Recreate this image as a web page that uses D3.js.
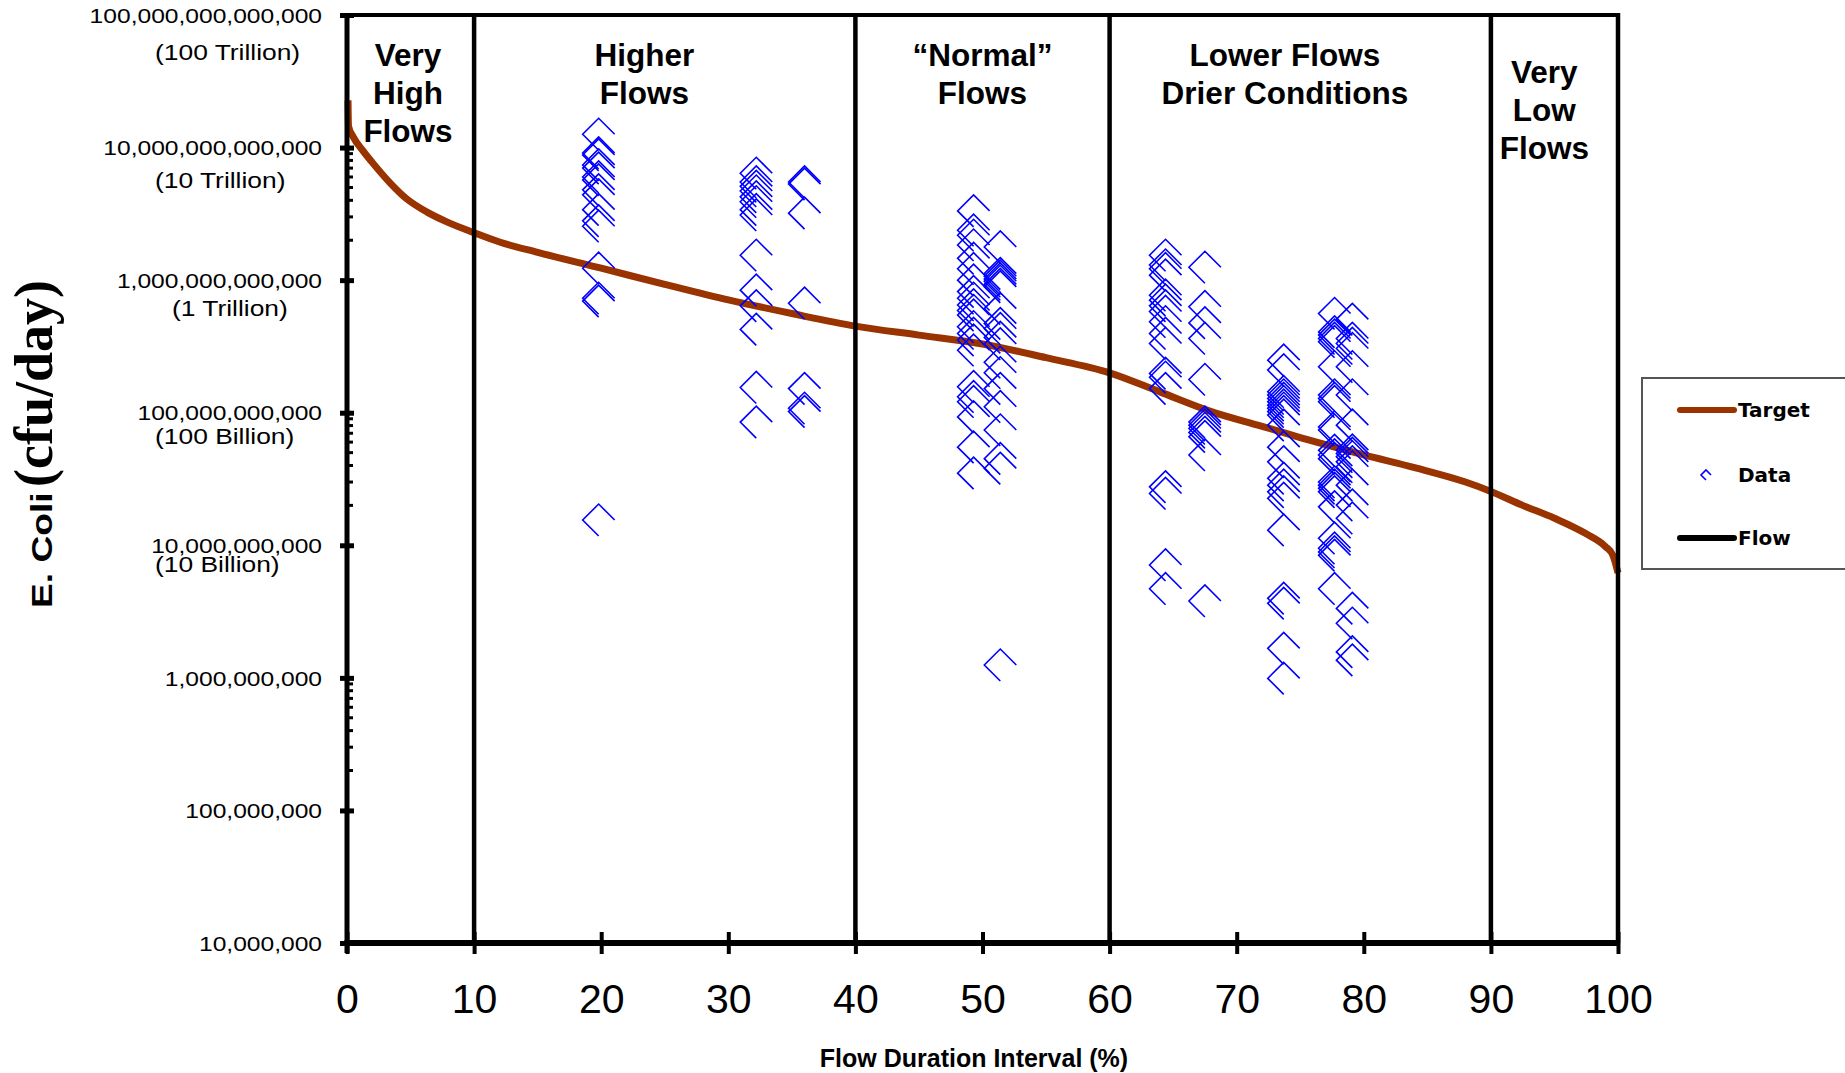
<!DOCTYPE html>
<html>
<head>
<meta charset="utf-8">
<script src="https://cdn.jsdelivr.net/npm/d3@7"></script>
<style>
  body { margin: 0; background: #fff; }
  svg { display: block; }
</style>
</head>
<body>
<svg id="chart" width="1845" height="1073"></svg>
<script>
// ---------------- DATA ----------------
const yTickValues = [1e7, 1e8, 1e9, 1e10, 1e11, 1e12, 1e13, 1e14];
const yNoteValues = [1e14, 1e13, 1e12, 1e11, 1e10];
const yNoteLabels = ["(100 Trillion)", "(10 Trillion)", "(1 Trillion)", "(100 Billion)", "(10 Billion)"];
const minorDecades = [1e8, 1e10, 1e12];
const minorMultipliers = [2, 3, 4, 5, 6, 7, 8, 9];
const xTickValues = [0, 10, 20, 30, 40, 50, 60, 70, 80, 90, 100];
const flowBreaks = [10, 40, 60, 90, 100];
const regionLabels = [
  ["Very", "High", "Flows"],
  ["Higher", "Flows"],
  ["\u201CNormal\u201D", "Flows"],
  ["Lower Flows", "Drier Conditions"],
  ["Very", "Low", "Flows"]
];
const xTitle = "Flow Duration Interval (%)";
const yTitleA = "E. Coli";
const yTitleB = "(cfu/day)";
const legendLabels = ["Target", "Data", "Flow"];

// Target load duration curve
const targetPct  = [0.08, 0.12, 0.5, 1.2, 2.0, 3.4, 4.7, 6.3, 7.9, 10, 12, 15, 20, 25, 30, 35, 40, 45, 50, 55, 60, 64, 68, 72, 75, 78, 80, 84, 88, 90, 92.5, 95, 97.5, 99, 99.6, 100];
const targetLoad = [2.27e13, 1.45e13, 1.2e13, 9.6e12, 7.7e12, 5.4e12, 4.1e12, 3.26e12, 2.74e12, 2.28e12, 1.94e12, 1.62e12, 1.23e12, 9.3e11, 7.1e11, 5.6e11, 4.5e11, 3.85e11, 3.3e11, 2.6e11, 2.0e11, 1.43e11, 1.02e11, 7.9e10, 6.5e10, 5.4e10, 4.8e10, 3.85e10, 3.0e10, 2.55e10, 2.0e10, 1.6e10, 1.22e10, 9.8e9, 8.4e9, 6.2e9];

// Observed data, grouped by flow-duration interval
const dataPct = [19.8, 32.2, 36.0, 49.3, 51.4, 64.4, 67.5, 73.7, 77.7, 79.1];
const col20 = [1.26e13, 9.1e12, 8.8e12, 7.4e12, 7.0e12, 6.0e12, 5.7e12, 4.8e12, 4.4e12, 3.4e12, 2.8e12, 2.55e12, 1.23e12, 7.3e11, 6.95e11, 1.55e10];
const col32 = [6.4e12, 5.5e12, 5.1e12, 4.7e12, 4.25e12, 3.9e12, 3.4e12, 3.1e12, 1.54e12, 8.4e11, 6.4e11, 4.25e11, 1.55e11, 8.5e10];
const col36 = [5.5e12, 5.3e12, 3.2e12, 6.7e11, 1.52e11, 1.08e11, 1.02e11];
const col49 = [3.33e12, 2.38e12, 2.18e12, 1.84e12, 1.46e12, 1.22e12, 1.0e12, 8.2e11, 7.3e11, 6.5e11, 5.9e11, 5.45e11, 4.45e11, 3.96e11, 3.53e11, 2.96e11, 1.57e11, 1.32e11, 1.21e11, 9.3e10, 5.5e10, 3.5e10];
const col51 = [1.78e12, 1.12e12, 1.07e12, 1.02e12, 9.8e11, 9.3e11, 8.9e11, 6.1e11, 4.7e11, 4.3e11, 3.7e11, 3.3e11, 2.4e11, 2.0e11, 1.52e11, 1.11e11, 7.4e10, 4.5e10, 3.8e10, 1.25e9];
const col64 = [1.54e12, 1.30e12, 1.22e12, 1.09e12, 7.7e11, 7.06e11, 6.4e11, 5.8e11, 4.85e11, 3.96e11, 3.33e11, 1.98e11, 1.85e11, 1.52e11, 2.76e10, 2.46e10, 7.1e9, 4.7e9];
const col67 = [1.25e12, 6.3e11, 4.76e11, 3.63e11, 1.78e11, 8.5e10, 8.06e10, 7.6e10, 7.1e10, 6.6e10, 4.8e10, 3.8e9];
const col73 = [2.49e11, 2.10e11, 1.44e11, 1.36e11, 1.28e11, 1.21e11, 1.14e11, 1.08e11, 1.02e11, 9.6e10, 8.06e10, 5.5e10, 4.26e10, 3.2e10, 2.84e10, 2.53e10, 2.26e10, 1.30e10, 3.98e9, 3.65e9, 1.67e9, 9.9e8];
const col77 = [5.6e11, 4.07e11, 3.85e11, 3.63e11, 3.43e11, 2.22e11, 1.36e11, 1.28e11, 1.21e11, 7.8e10, 7.4e10, 5.2e10, 4.8e10, 4.5e10, 3.0e10, 2.84e10, 2.69e10, 2.53e10, 1.95e10, 1.13e10, 9.5e9, 8.9e9, 8.4e9, 4.7e9];
const col79 = [5.06e11, 3.63e11, 3.33e11, 3.05e11, 2.22e11, 1.36e11, 8.06e10, 5.22e10, 4.93e10, 4.65e10, 4.26e10, 3.91e10, 2.84e10, 2.01e10, 1.60e10, 3.34e9, 2.58e9, 1.57e9, 1.36e9];
const dataLoads = [col20, col32, col36, col49, col51, col64, col67, col73, col77, col79];

// ---------------- LAYOUT ----------------
const svg = d3.select("#chart");
const plotLeft = 347, plotRight = 1618, plotTop = 15, plotBottom = 943;
const x = d3.scaleLinear().domain([0, 100]).range([plotLeft, plotRight]);
const y = d3.scaleLog().domain([1e7, 1e14]).range([plotBottom, plotTop]);

const sansFont = "'Liberation Sans', Arial, sans-serif";
const serifFont = "'Liberation Serif', 'Times New Roman', serif";
const legendFont = "'Comic Sans MS', 'DejaVu Sans', sans-serif";
const targetColor = "#993300";
const dataColor = "#0000ff";

// Target curve
const targetPts = targetPct.map((p, i) => [p, targetLoad[i]]);
svg.append("path")
  .datum(targetPts)
  .attr("fill", "none")
  .attr("stroke", targetColor)
  .attr("stroke-width", 7)
  .attr("d", d3.line().x(d => x(d[0])).y(d => y(d[1])).curve(d3.curveMonotoneX));

// Top border
svg.append("line")
  .attr("x1", x(0)).attr("x2", x(100))
  .attr("y1", y(1e14)).attr("y2", y(1e14))
  .attr("stroke", "#000").attr("stroke-width", 4);

// Flow interval dividers
svg.selectAll("line.flow")
  .data(flowBreaks)
  .enter().append("line")
  .attr("class", "flow")
  .attr("x1", d => x(d)).attr("x2", d => x(d))
  .attr("y1", y(1e14) - 2).attr("y2", y(1e7))
  .attr("stroke", "#000").attr("stroke-width", 4.5);

// Region labels
const regionX = [4.8, 23.4, 50, 73.8, 94.2];
const regionBaseline = [66, 66, 66, 66, 83];
const lineGap = 38;
regionLabels.forEach((lines, i) => {
  const t = svg.append("text")
    .attr("text-anchor", "middle")
    .attr("font-family", sansFont)
    .attr("font-weight", "bold")
    .attr("font-size", 31.5)
    .attr("fill", "#000");
  lines.forEach((ln, j) => {
    t.append("tspan")
      .attr("x", x(regionX[i]))
      .attr("y", regionBaseline[i] + j * lineGap)
      .text(ln);
  });
});

// Data markers (open diamond missing lower-right edge)
const s = 16;
const marker = (cx, cy, r) => `M${cx + r},${cy}L${cx},${cy - r}L${cx - r},${cy}L${cx},${cy + r}`;
const dataPts = [];
dataLoads.forEach((col, i) => col.forEach(v => dataPts.push([dataPct[i], v])));
svg.selectAll("path.data")
  .data(dataPts)
  .enter().append("path")
  .attr("class", "data")
  .attr("d", d => marker(x(d[0]), y(d[1]), s))
  .attr("fill", "none")
  .attr("stroke", dataColor)
  .attr("stroke-width", 1.6);

// Y axis
const yAxis = d3.axisLeft(y).tickValues(yTickValues).tickFormat(d3.format(",.0f")).tickSize(7);
const gy = svg.append("g").attr("transform", `translate(${x(0)},0)`).call(yAxis);
gy.select(".domain").remove();
gy.selectAll(".tick line").attr("x1", 7).attr("x2", -7).attr("stroke", "#000").attr("stroke-width", 5);
gy.selectAll(".tick text")
  .attr("x", null)
  .attr("dy", "0.35em")
  .attr("transform", "translate(-25,0) scale(1.2,1)")
  .attr("font-family", sansFont)
  .attr("font-size", 20.5)
  .attr("fill", "#000")
  .attr("text-anchor", "end");

// Minor ticks
const minorVals = [];
minorDecades.forEach(d => minorMultipliers.forEach(m => minorVals.push(d * m)));
svg.selectAll("line.minor")
  .data(minorVals)
  .enter().append("line")
  .attr("x1", x(0)).attr("x2", x(0) + 6)
  .attr("y1", d => y(d)).attr("y2", d => y(d))
  .attr("stroke", "#000").attr("stroke-width", 3);

// Notes under y ticks
const noteX = [155, 155, 172, 155, 155];
const noteOffset = [45, 40.5, 36, 31.5, 27];
yNoteLabels.forEach((lab, i) => {
  svg.append("text")
    .attr("transform", `translate(${noteX[i]},${y(yNoteValues[i]) + noteOffset[i]}) scale(1.2,1)`)
    .attr("font-family", sansFont)
    .attr("font-size", 22)
    .attr("fill", "#000")
    .text(lab);
});

// Y axis line
svg.append("line")
  .attr("x1", x(0)).attr("x2", x(0))
  .attr("y1", y(1e14) - 2).attr("y2", y(1e7) + 10)
  .attr("stroke", "#000").attr("stroke-width", 5);

// X axis
const xAxis = d3.axisBottom(x).tickValues(xTickValues).tickFormat(d3.format("d")).tickSize(11);
const gx = svg.append("g").attr("transform", `translate(0,${y(1e7)})`).call(xAxis);
gx.select(".domain").remove();
gx.selectAll(".tick line").attr("y1", -11).attr("y2", 11).attr("stroke", "#000").attr("stroke-width", 4);
gx.selectAll(".tick text")
  .attr("y", 70).attr("dy", 0)
  .attr("font-family", sansFont)
  .attr("font-size", 41)
  .attr("fill", "#000");
svg.append("line")
  .attr("x1", x(0) - 2.5).attr("x2", x(100) + 2)
  .attr("y1", y(1e7)).attr("y2", y(1e7))
  .attr("stroke", "#000").attr("stroke-width", 6);

// Axis titles
svg.append("text")
  .attr("x", 974).attr("y", 1067)
  .attr("text-anchor", "middle")
  .attr("font-family", sansFont)
  .attr("font-weight", "bold")
  .attr("font-size", 25)
  .attr("fill", "#000")
  .text(xTitle);

svg.append("text")
  .attr("transform", "translate(52,608) rotate(-90) scale(1.24,1)")
  .attr("fill", "#000")
  .attr("font-weight", "bold")
  .attr("font-family", sansFont)
  .attr("font-size", 30)
  .text(yTitleA);
svg.append("text")
  .attr("transform", "translate(52,487) rotate(-90)")
  .attr("fill", "#000")
  .attr("font-weight", "bold")
  .attr("font-family", serifFont)
  .attr("font-size", 54)
  .text(yTitleB);

// Legend
const lg = svg.append("g");
lg.append("rect")
  .attr("x", 1642).attr("y", 378).attr("width", 260).attr("height", 191)
  .attr("fill", "#fff").attr("stroke", "#555").attr("stroke-width", 2);
lg.append("line").attr("x1", 1680).attr("x2", 1734).attr("y1", 410).attr("y2", 410)
  .attr("stroke", targetColor).attr("stroke-width", 6).attr("stroke-linecap", "round");
lg.append("path").attr("d", marker(1706, 475, 5))
  .attr("fill", "none").attr("stroke", dataColor).attr("stroke-width", 1.6);
lg.append("line").attr("x1", 1680).attr("x2", 1734).attr("y1", 538).attr("y2", 538)
  .attr("stroke", "#000").attr("stroke-width", 6).attr("stroke-linecap", "round");
const legendY = [417, 482, 545];
legendLabels.forEach((lab, i) => {
  lg.append("text")
    .attr("x", 1738).attr("y", legendY[i])
    .attr("font-family", legendFont)
    .attr("font-weight", "bold")
    .attr("font-size", 20)
    .attr("fill", "#000")
    .text(lab);
});
</script>
</body>
</html>
